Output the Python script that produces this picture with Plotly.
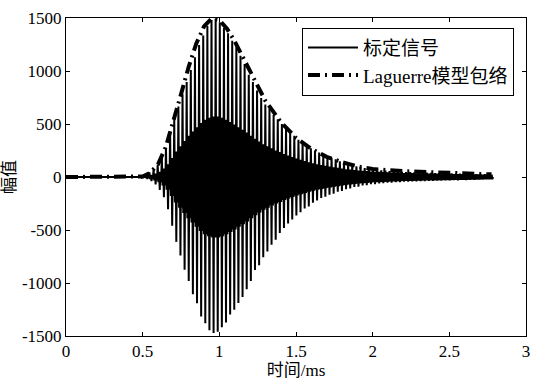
import plotly.graph_objects as go

# ---- data ----
t_start = 0.49        # ms, onset of oscillation
period = 0.027        # ms, oscillation period
upper_peaks = [8, 25, 45, 72, 115, 185, 275, 420, 550, 665, 780, 895, 1010, 1130, 1245, 1335, 1425, 1480, 1495, 1460,
               1405, 1355, 1285, 1225, 1145, 1065, 965, 895, 815, 745, 685, 645, 585, 545, 500, 462, 418, 388, 352, 322,
               292, 272, 248, 232, 208, 196, 178, 166, 148, 136, 124, 116, 100, 93, 84, 79, 71, 68, 63, 61,
               56, 55, 51, 50, 47, 47, 44, 44, 41, 41, 39, 38, 36, 36, 34, 34, 32, 32, 30, 30,
               28, 28, 26, 26, 24]
lower_peaks = [8, 20, 40, 70, 122, 190, 305, 460, 612, 740, 875, 980, 1105, 1190, 1315, 1380, 1445, 1472, 1460, 1418,
               1372, 1298, 1252, 1188, 1132, 1058, 982, 878, 832, 758, 702, 638, 592, 528, 482, 438, 402, 363, 332, 298,
               277, 243, 222, 198, 187, 168, 157, 140, 132, 116, 107, 95, 91, 80, 77, 68, 67, 60, 59, 53,
               53, 48, 48, 44, 45, 41, 42, 39, 39, 36, 37, 34, 35, 32, 33, 30, 31, 28, 29, 26,
               27, 24, 25, 22, 22]
core_amp = [4, 10, 20, 32, 50, 80, 120, 180, 240, 290, 340, 390, 430, 470, 510, 540, 560, 570, 570, 560,
            540, 520, 495, 470, 445, 420, 390, 360, 335, 310, 290, 270, 250, 235, 218, 202, 188, 175, 163, 152,
            140, 130, 121, 113, 105, 98, 92, 86, 80, 74, 70, 66, 62, 58, 55, 52, 50, 48, 46, 44,
            42, 41, 40, 38, 37, 36, 35, 34, 33, 32, 31, 31, 30, 29, 29, 28, 27, 27, 26, 25,
            24, 24, 23, 23, 22]

env_t = [0, 0.1, 0.2, 0.3, 0.4, 0.45, 0.5, 0.55, 0.6, 0.65, 0.7, 0.75, 0.8, 0.85, 0.9, 0.95, 1.0, 1.05,
         1.1, 1.15, 1.2, 1.3, 1.4, 1.5, 1.6, 1.7, 1.8, 1.9, 2.0, 2.2, 2.4, 2.6, 2.775]
env_v = [0, 0, 0, 0, 0, 0, 5, 40, 120, 280, 520, 780, 1040, 1260, 1420, 1495, 1480, 1400,
         1280, 1140, 990, 720, 520, 370, 265, 190, 140, 100, 75, 55, 45, 35, 25]

x_ticks = [0, 0.5, 1, 1.5, 2, 2.5, 3]
y_ticks = [-1500, -1000, -500, 0, 500, 1000, 1500]

# ---- build the signal trace from the peak lists ----
sig_t = [0.0, t_start]
sig_v = [0.0, 0.0]
step = period / 6
for k in range(len(upper_peaks)):
    base = t_start + k * period
    u, d, c = upper_peaks[k], lower_peaks[k], core_amp[k]
    vals = [u, -c, c, -d, c, -c]
    for j, v in enumerate(vals):
        sig_t.append(base + j * step)
        sig_v.append(v)
sig_t.append(t_start + len(upper_peaks) * period)
sig_v.append(0.0)

FONT = "Liberation Serif, Noto Sans CJK SC, serif"

fig = go.Figure()
fig.add_trace(go.Scatter(
    x=sig_t, y=sig_v, mode="lines", name="标定信号",
    line=dict(color="black", width=2, simplify=False),
    hoverinfo="skip"))
fig.add_trace(go.Scatter(
    x=env_t, y=env_v, mode="lines", name="Laguerre模型包络",
    line=dict(color="black", width=4, dash="12px,5px,2px,5px"),
    hoverinfo="skip"))

fig.update_layout(
    width=536, height=384,
    margin=dict(l=64, r=6, t=18, b=48),
    paper_bgcolor="white", plot_bgcolor="white",
    font=dict(family=FONT, size=17, color="black"),
    showlegend=True,
    legend=dict(x=0.513, y=0.97, xanchor="left", yanchor="top",
                bgcolor="white", bordercolor="black", borderwidth=1,
                font=dict(family=FONT, size=19), tracegroupgap=0,
                itemwidth=50),
    xaxis=dict(range=[0, 3], tickvals=x_ticks, ticktext=[str(v) for v in x_ticks],
               showgrid=False, zeroline=False, showline=True, linecolor="black", linewidth=1,
               mirror="ticks", ticks="inside", ticklen=4, tickcolor="black",
               tickfont=dict(size=17),
               title=dict(text="时间/ms", standoff=2, font=dict(size=17))),
    yaxis=dict(range=[-1500, 1500], tickvals=y_ticks, ticktext=[str(v) for v in y_ticks],
               showgrid=False, zeroline=False, showline=True, linecolor="black", linewidth=1,
               mirror="ticks", ticks="inside", ticklen=4, tickcolor="black",
               tickfont=dict(size=17),
               title=dict(text="幅值", standoff=4, font=dict(size=17))),
)

fig.write_html("out.html")
